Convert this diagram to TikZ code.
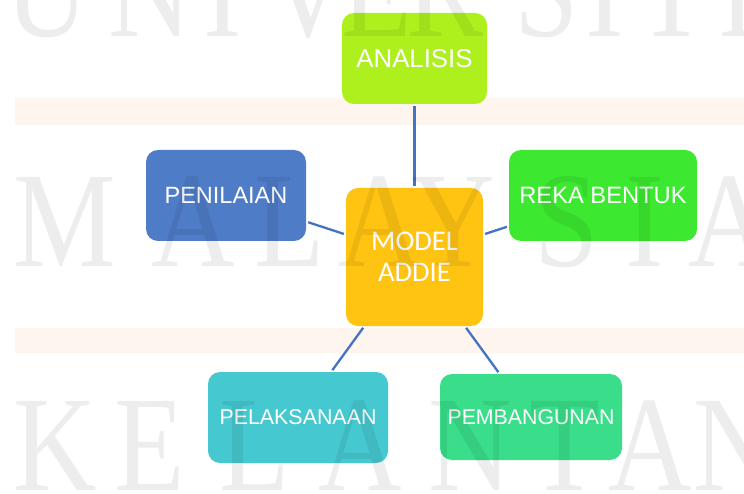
\documentclass[tikz,border=0pt]{standalone}
\usepackage{fontspec}
\setmainfont{Liberation Sans}
\newfontfamily\calibrifont{Carlito}
\newfontfamily\wmfont{Liberation Serif}
\definecolor{cAnalisis}{HTML}{AEF01E}
\definecolor{cPenilaian}{HTML}{4F7CC6}
\definecolor{cReka}{HTML}{3CE830}
\definecolor{cModel}{HTML}{FFC312}
\definecolor{cPelak}{HTML}{46C8D0}
\definecolor{cPemb}{HTML}{3ADE8A}
\definecolor{cLine}{HTML}{4472C4}
\definecolor{cBand}{HTML}{FDF5EE}
\tikzset{
  box/.style={rectangle, rounded corners=12pt, inner sep=0pt, text=white, align=center},
  link/.style={draw=cLine, line width=2.3pt, shorten <=2pt, shorten >=2pt},
  wm/.style={anchor=base, inner sep=0pt, text=black, text opacity=0.07,
             font=\wmfont\fontsize{136}{136}\selectfont, xscale=0.85},
  band/.style={fill=cBand, draw=none}
}
\begin{document}
\begin{tikzpicture}[x=1pt,y=-1pt]
\useasboundingbox (0,0) rectangle (744,494);
\fill[white] (0,0) rectangle (744,494);
% background bands
\fill[band] (15,98) rectangle (744,125);
\fill[band] (15,328) rectangle (744,353);
% boxes
\node[box, fill=cAnalisis, minimum width=145pt, minimum height=91pt,
      font=\fontsize{25.8}{30}\selectfont] (ana) at (414.5,58.5) {ANALISIS};
\node[box, fill=cPenilaian, minimum width=160pt, minimum height=91pt,
      font=\fontsize{23.5}{28}\selectfont] (pen) at (226,195.5) {PENILAIAN};
\node[box, fill=cReka, minimum width=188pt, minimum height=91pt,
      font=\fontsize{23.7}{28}\selectfont] (rek) at (603,195.5) {REKA BENTUK};
\node[box, fill=cModel, minimum width=137pt, minimum height=138pt,
      font=\calibrifont\fontsize{28.5}{31}\selectfont] (mod) at (414.5,257) {MODEL\\ADDIE};
\node[box, fill=cPelak, minimum width=180pt, minimum height=91pt,
      font=\fontsize{21.4}{26}\selectfont] (pel) at (298,417.5) {PELAKSANAAN};
\node[box, fill=cPemb, minimum width=182pt, minimum height=86pt,
      font=\fontsize{21.3}{26}\selectfont] (pem) at (531,417) {PEMBANGUNAN};
% connectors
\draw[link] (mod) -- (ana);
\draw[link] (mod) -- (pen);
\draw[link] (mod) -- (rek);
\draw[link] (mod) -- (pel);
\draw[link] (mod) -- (pem);
% watermark
\foreach \xx/\ll [count=\i] in {47/U,150/N,223/I,308/V,377/E,445/R,547/S,605/I,672/T,738/I}
  \node[wm] (wa\i) at (\xx,37) {\ll};
\foreach \xx/\ll [count=\i] in {65/M,193/A,290/L,380/A,453/Y,567/S,645/I,730/A}
  \node[wm] (wb\i) at (\xx,267) {\ll};
\foreach \xx/\ll [count=\i] in {55/K,150/E,255/L,360/A,470/N,565/T,650/A,735/N}
  \node[wm] (wc\i) at (\xx,490) {\ll};
\end{tikzpicture}
\end{document}
